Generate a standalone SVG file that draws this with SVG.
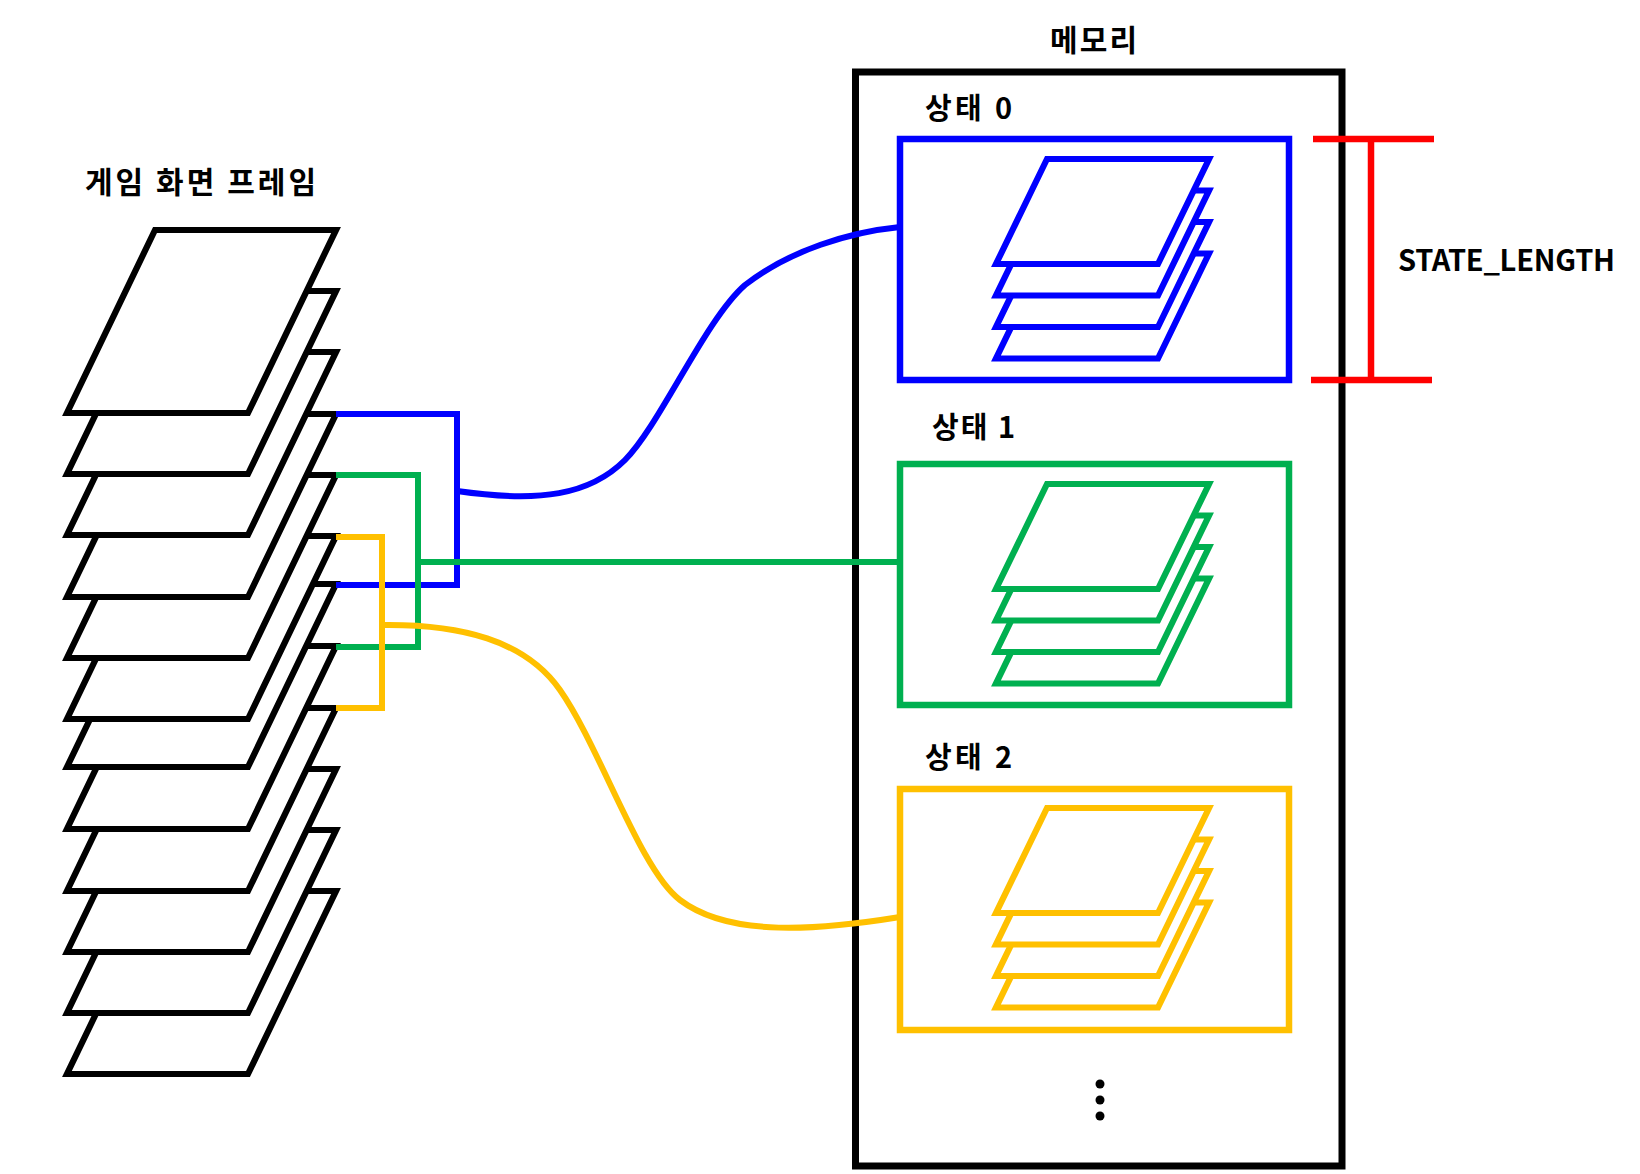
<svg xmlns="http://www.w3.org/2000/svg" xmlns:xlink="http://www.w3.org/1999/xlink" width="1640" height="1174" viewBox="0 0 1640 1174">
<defs>
<style>
text{font-family:"Noto Sans CJK KR","Noto Sans",sans-serif;font-weight:bold;fill:#000}
.frame{fill:#fff;stroke:#000;stroke-width:6.2;stroke-miterlimit:10}
.mini{fill:#fff;stroke-width:6.2;stroke-miterlimit:10}
.box{fill:#fff;stroke-width:6.5}
.conn{fill:none;stroke-width:6}
.blue{stroke:#0000FF}
.green{stroke:#00B050}
.yellow{stroke:#FFC000}
</style>
<polygon id="fr" points="155,0 336,0 248,183 67,183"/>
<polygon id="mini" points="1047,0 1209,0 1158,105 996,105"/>
</defs>
<rect width="1640" height="1174" fill="#fff"/>

<g id="frames-title"><text x="85" y="193" font-size="30" textLength="231" lengthAdjust="spacing">게임 화면 프레임</text></g>

<g id="frames">
<use href="#fr" class="frame" y="891"/>
<use href="#fr" class="frame" y="830"/>
<use href="#fr" class="frame" y="769"/>
<use href="#fr" class="frame" y="708"/>
<use href="#fr" class="frame" y="646"/>
<use href="#fr" class="frame" y="584"/>
<use href="#fr" class="frame" y="536"/>
<use href="#fr" class="frame" y="475"/>
<use href="#fr" class="frame" y="414"/>
<use href="#fr" class="frame" y="352"/>
<use href="#fr" class="frame" y="291"/>
<use href="#fr" class="frame" y="230"/>
</g>

<g id="memory">
<text x="1050" y="51" font-size="30" textLength="87" lengthAdjust="spacing">메모리</text>
<rect x="855.5" y="72" width="486.5" height="1094" fill="#fff" stroke="#000" stroke-width="7"/>
<circle cx="1100" cy="1084" r="4.5" fill="#000"/>
<circle cx="1100" cy="1100" r="4.5" fill="#000"/>
<circle cx="1100" cy="1116" r="4.5" fill="#000"/>
</g>

<g id="state0">
<text x="925" y="119" font-size="29" textLength="87" lengthAdjust="spacing">상태 0</text>
<rect class="box blue" x="900" y="139" width="389" height="241"/>
<use href="#mini" class="mini blue" y="253.5"/>
<use href="#mini" class="mini blue" y="222"/>
<use href="#mini" class="mini blue" y="190.5"/>
<use href="#mini" class="mini blue" y="159"/>
</g>

<g id="state1">
<text x="932" y="438" font-size="29" textLength="83" lengthAdjust="spacing">상태 1</text>
<rect class="box green" x="900" y="464" width="389" height="241"/>
<use href="#mini" class="mini green" y="578.5"/>
<use href="#mini" class="mini green" y="547"/>
<use href="#mini" class="mini green" y="515.5"/>
<use href="#mini" class="mini green" y="484"/>
</g>

<g id="state2">
<text x="925" y="768" font-size="29" textLength="87" lengthAdjust="spacing">상태 2</text>
<rect class="box yellow" x="900" y="789" width="389" height="241"/>
<use href="#mini" class="mini yellow" y="902.5"/>
<use href="#mini" class="mini yellow" y="871"/>
<use href="#mini" class="mini yellow" y="839.5"/>
<use href="#mini" class="mini yellow" y="808"/>
</g>

<g id="state-length">
<path d="M1313,139 H1434 M1311,380 H1432 M1371,139 V380" fill="none" stroke="#FF0000" stroke-width="6.5"/>
<text x="1398" y="271" font-size="29" textLength="217" lengthAdjust="spacing">STATE_LENGTH</text>
</g>

<g id="connectors">
<path class="conn blue" d="M336,414 H457 V585 H336"/>
<path class="conn green" d="M336,475 H418 V647 H336"/>
<path class="conn green" d="M418,562 H900"/>
<path class="conn blue" d="M457,491 C540,503 590,495 625,460 C660,425 705,320 745,285 C790,250 850,232 900,227"/>
<path class="conn yellow" d="M336,537 H382 V708 H336"/>
<path class="conn yellow" d="M382,625 C460,624 525,640 560,690 C600,747 640,870 680,900 C730,938 820,930 900,917"/>
</g>
</svg>
